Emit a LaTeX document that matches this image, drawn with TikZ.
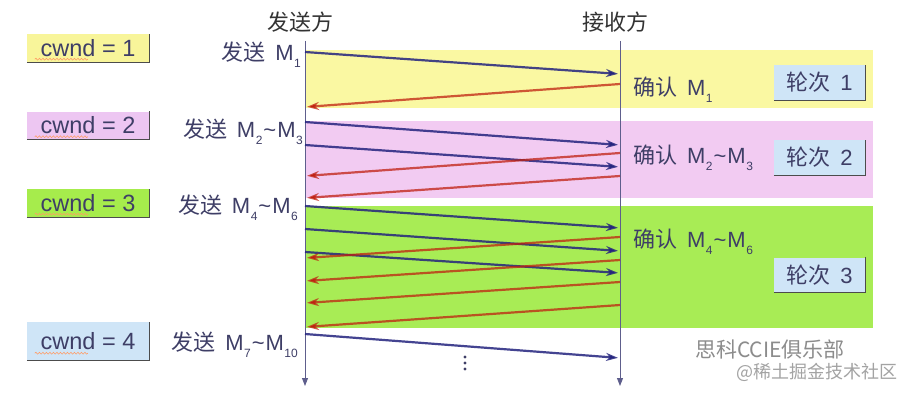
\documentclass[tikz,border=0pt]{standalone}
\usepackage{fontspec}
\setmainfont{Liberation Sans}
\newfontfamily\cjk{Noto Sans CJK SC}
\usetikzlibrary{arrows.meta,decorations.pathmorphing}
\definecolor{bandY}{HTML}{FAF8A2}
\definecolor{bandP}{HTML}{F2CBF2}
\definecolor{bandG}{HTML}{A8EC55}
\definecolor{boxY}{HTML}{F8F59A}
\definecolor{boxP}{HTML}{EDC6F2}
\definecolor{boxG}{HTML}{A6EC4C}
\definecolor{boxB}{HTML}{CFE5F7}
\definecolor{ink}{HTML}{3E3E66}
\definecolor{sendc}{HTML}{24247E}
\definecolor{ackc}{HTML}{C02010}
\definecolor{life}{HTML}{5E5E8C}
\definecolor{wm}{HTML}{8C8C8C}
\newcommand\Msub[1]{M\kern0.5pt\raisebox{-0.32em}{\fontsize{12}{12}\selectfont #1}}
\newcommand\tl{\kern1pt\textasciitilde\kern1pt}
\tikzset{
  lab/.style={inner sep=0pt, text=ink, font=\fontsize{22}{26}\selectfont},
  head/.style={inner sep=0pt, text=black!80, font=\fontsize{22}{26}\selectfont\cjk},
  cwbox/.style={fill=#1, minimum width=122pt, minimum height=28pt, inner sep=0pt, text=ink, font=\fontsize{23.5}{27}\selectfont},
  rbox/.style={fill=boxB, minimum width=91pt, minimum height=35pt, inner sep=0pt, text=ink, font=\fontsize{22}{26}\selectfont},
  shadowline/.style={draw=black!70, line width=1.1pt},
  wavy/.style={draw=orange!70!red!60, line width=0.6pt, decorate, decoration={snake, amplitude=0.9pt, segment length=3.5pt}},
  snd/.style={draw=sendc, draw opacity=0.85, line width=2.2pt, -{Stealth[length=12pt,width=8pt,fill=sendc]}},
  ack/.style={draw=ackc, draw opacity=0.75, line width=2.2pt, -{Stealth[length=12pt,width=8pt,fill=ackc]}},
  lifeline/.style={draw=life, line width=0.9pt, -{Triangle[length=8pt,width=6pt]}},
  band/.style={fill=#1, draw=none},
  dot/.style={fill=ink, draw=none}
}
\begin{document}
\begin{tikzpicture}[x=1pt,y=-1pt]
\useasboundingbox (0,0) rectangle (910,396);
\fill[white] (0,0) rectangle (910,396);
% bands
\path[band=bandY] (305,50) rectangle (873,108);
\path[band=bandP] (305,121) rectangle (873,198);
\path[band=bandG] (305,206) rectangle (873,328);
% headers
\node[head] (hs) at (300,22) {发送方};
\node[head] (hr) at (615,22) {接收方};
% lifelines
\coordinate (sTop) at (305,41);
\coordinate (sBot) at (305,386);
\coordinate (rTop) at (620,41);
\coordinate (rBot) at (620,386);
\draw[lifeline] (sTop) -- (sBot);
\draw[lifeline] (rTop) -- (rBot);
% cwnd boxes
\node[cwbox=boxY] (c1) at (88,48) {cwnd = 1};
\node[cwbox=boxP] (c2) at (88,125.5) {cwnd = 2};
\node[cwbox=boxG] (c3) at (88,203) {cwnd = 3};
\node[cwbox=boxB, minimum height=38pt] (c4) at (88,341) {cwnd = 4};
\foreach \n/\d in {c1/3,c2/3,c3/3,c4/7}{
  \draw[shadowline] (\n.south west) -- (\n.south east) -- (\n.north east);
  \draw[wavy] ([xshift=8pt,yshift=\d pt]\n.south west) -- ([xshift=61pt,yshift=\d pt]\n.south west);
}
% send labels
\node[lab, anchor=east] (l1) at (301,55) {{\cjk 发送}\hspace{0.45em}\Msub{1}};
\node[lab, anchor=east] (l2) at (303,132) {{\cjk 发送}\hspace{0.45em}\Msub{2}\tl\Msub{3}};
\node[lab, anchor=east] (l3) at (298,208) {{\cjk 发送}\hspace{0.45em}\Msub{4}\tl\Msub{6}};
\node[lab, anchor=east] (l4) at (298,345) {{\cjk 发送}\hspace{0.45em}\Msub{7}\tl\Msub{10}};
% ack labels
\node[lab, anchor=west] (k1) at (633,90) {{\cjk 确认}\hspace{0.45em}\Msub{1}};
\node[lab, anchor=west] (k2) at (633,158) {{\cjk 确认}\hspace{0.45em}\Msub{2}\tl\Msub{3}};
\node[lab, anchor=west] (k3) at (633,242) {{\cjk 确认}\hspace{0.45em}\Msub{4}\tl\Msub{6}};
% round boxes
\node[rbox] (r1) at (819.5,82.5) {{\cjk 轮次}\hspace{0.45em}1};
\node[rbox] (r2) at (819.5,157.5) {{\cjk 轮次}\hspace{0.45em}2};
\node[rbox] (r3) at (819.5,275) {{\cjk 轮次}\hspace{0.45em}3};
\foreach \n in {r1,r2,r3}{
  \draw[shadowline] (\n.south west) -- (\n.south east) -- (\n.north east);
}
% message points
\foreach \nm/\x/\y in {
  a1s/305/52, a1r/620/74, b1r/620/84, b1s/305/107,
  a2s/305/122, a2r/620/145, a3s/305/145, a3r/620/167,
  b2r/620/153, b2s/305/176, b3r/620/176, b3s/305/198,
  a4s/305/206, a4r/620/228, a5s/305/229, a5r/620/251, a6s/305/252, a6r/620/273,
  b4r/620/237, b4s/305/258, b5r/620/260, b5s/305/281, b6r/620/282, b6s/305/303, b7r/620/305, b7s/305/327,
  a7s/305/334, a7r/620/358}{
  \coordinate (\nm) at (\x,\y);
}
\foreach \s/\r in {a1s/a1r,a2s/a2r,a3s/a3r,a4s/a4r,a5s/a5r,a6s/a6r,a7s/a7r}{
  \draw[snd, shorten >=2pt] (\s) -- (\r);
}
\foreach \r/\s in {b1r/b1s,b2r/b2s,b3r/b3s,b4r/b4s,b5r/b5s,b6r/b6s,b7r/b7s}{
  \draw[ack, shorten >=2pt] (\r) -- (\s);
}
% vertical dots
\foreach \y in {357,363,369}{
  \fill[dot] (465,\y) circle (1.6pt);
}
% watermark
\node[text=wm, inner sep=0pt, anchor=west, font=\fontsize{21}{24}\selectfont\cjk] (w1) at (695,349) {思科CCIE俱乐部};
\node[text=wm!80, inner sep=0pt, anchor=west, font=\fontsize{18}{22}\selectfont\cjk] (w2) at (736,372) {@稀土掘金技术社区};
\end{tikzpicture}
\end{document}
